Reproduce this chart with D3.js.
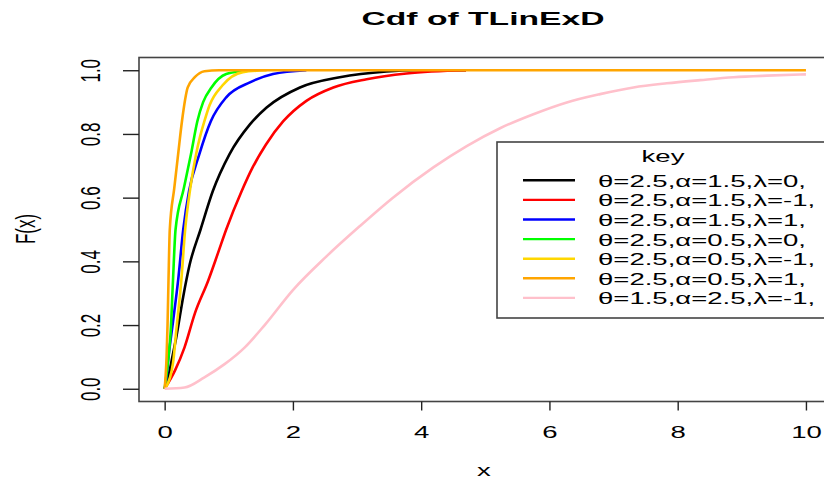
<!DOCTYPE html>
<html>
<head>
<meta charset="utf-8">
<script src="https://cdn.jsdelivr.net/npm/d3@7"></script>
<style>
    body { margin: 0; background: #fff; }
    text { font-family: "Liberation Sans", Arial, sans-serif; fill: #000; }
</style>
</head>
<body>
<div id="chart"></div>
<script>
// Data
// ============================================================================
const labels = [
    "θ=2.5,α=1.5,λ=0,",
    "θ=2.5,α=1.5,λ=-1,",
    "θ=2.5,α=1.5,λ=1,",
    "θ=2.5,α=0.5,λ=0,",
    "θ=2.5,α=0.5,λ=-1,",
    "θ=2.5,α=0.5,λ=1,",
    "θ=1.5,α=2.5,λ=-1,",
];

const xBlack = [0, 0.06, 0.12, 0.18, 0.29, 0.39, 0.56, 0.75, 1.01, 1.33, 1.59, 2.11, 2.73, 3.46, 3.9, 4.7];
const fBlack = [0, 0.04, 0.10, 0.16, 0.29, 0.39, 0.50, 0.62, 0.736, 0.83, 0.883, 0.946, 0.978, 0.996, 1.0, 1.0];

const xRed = [0, 0.16, 0.31, 0.47, 0.68, 0.83, 0.96, 1.2, 1.37, 1.58, 1.85, 2.21, 2.63, 3.15, 3.77, 4.7];
const fRed = [0, 0.057, 0.13, 0.236, 0.34, 0.425, 0.5, 0.62, 0.694, 0.767, 0.84, 0.904, 0.946, 0.972, 0.99, 1.0];

const xBlue = [0, 0.02, 0.06, 0.13, 0.21, 0.29, 0.38, 0.54, 0.72, 0.96, 1.33, 1.69, 2.21];
const fBlue = [0, 0.02, 0.1, 0.21, 0.34, 0.5, 0.62, 0.736, 0.84, 0.915, 0.962, 0.988, 1.0];

const xGreen = [0, 0.02, 0.06, 0.094, 0.13, 0.17, 0.30, 0.41, 0.51, 0.60, 0.73, 0.96, 1.22, 1.4];
const fGreen = [0, 0.03, 0.1, 0.18, 0.34, 0.5, 0.63, 0.736, 0.84, 0.90, 0.946, 0.988, 0.997, 1.0];

const xGold = [0, 0.02, 0.13, 0.18, 0.26, 0.32, 0.40, 0.49, 0.55, 0.62, 0.70, 0.90, 1.22, 1.59];
const fGold = [0, 0.005, 0.08, 0.18, 0.34, 0.5, 0.63, 0.736, 0.79, 0.84, 0.89, 0.952, 0.994, 1.0];

const xOrange = [0, 0.03, 0.045, 0.06, 0.08, 0.15, 0.21, 0.27, 0.36, 0.47, 0.62, 0.85, 10];
const fOrange = [0, 0.1, 0.2, 0.34, 0.5, 0.63, 0.736, 0.84, 0.946, 0.978, 0.997, 1.0, 1.0];

const xPink = [0, 0.31, 0.62, 0.94, 1.25, 1.56, 2.0, 2.52, 3.04, 3.56, 4.19, 4.71, 5.23, 5.75, 6.27, 6.79, 7.31, 7.83, 8.35, 8.87, 9.39, 10.0];
const fPink = [0, 0.004, 0.036, 0.078, 0.13, 0.2, 0.31, 0.415, 0.51, 0.60, 0.695, 0.762, 0.818, 0.862, 0.899, 0.925, 0.946, 0.959, 0.969, 0.978, 0.983, 0.987];

const xTicks = [0, 2, 4, 6, 8, 10];
const yTicks = [0, 0.2, 0.4, 0.6, 0.8, 1.0];

const colors = ["#000000", "#ff0000", "#0000ff", "#00ff00", "#ffd700", "#ffa500", "#ffc0cb"];

const series = [
    [xBlack, fBlack], [xRed, fRed], [xBlue, fBlue], [xGreen, fGreen],
    [xGold, fGold], [xOrange, fOrange], [xPink, fPink],
].map(([xs, fs], i) => ({
    label: labels[i],
    color: colors[i],
    values: xs.map((x, j) => ({x: x, f: fs[j]})),
}));

// Layout (the original is stretched sideways, so text gets a scaleX)
// ============================================================================
const W = 824, H = 480,
    box = {left: 139, top: 57.5, right: 831.6, bottom: 401.5},
    SX = 1.62;

const svg = d3.select("#chart")
    .append("svg")
        .attr("width", W)
        .attr("height", H);

let xScale = d3.scaleLinear()
    .domain([-0.4, 10.4])
    .range([box.left, box.right]);

let yScale = d3.scaleLinear()
    .domain([-0.04, 1.04])
    .range([box.bottom, box.top]);

// Curves
// ============================================================================
const line = d3.line()
    .x(d => xScale(d.x))
    .y(d => yScale(d.f))
    .curve(d3.curveMonotoneX);

svg.selectAll(".curve")
    .data(series)
    .enter()
    .append("path")
        .attr("class", "curve")
        .attr("d", d => line(d.values))
        .attr("fill", "none")
        .attr("stroke", d => d.color)
        .attr("stroke-width", 2.6)
        .attr("stroke-linejoin", "round");

// Box and axes
// ============================================================================
svg.append("rect")
    .attr("x", box.left)
    .attr("y", box.top)
    .attr("width", box.right - box.left)
    .attr("height", box.bottom - box.top)
    .attr("fill", "none")
    .attr("stroke", "#444")
    .attr("stroke-width", 1.6);

let xAxis = svg.append("g")
    .attr("transform", "translate(0," + box.bottom + ")")
    .call(d3.axisBottom(xScale).tickValues(xTicks).tickSize(9).tickFormat(d3.format("d")));

xAxis.select(".domain").remove();
xAxis.selectAll("line").attr("stroke", "#222").attr("stroke-width", 1.4);
xAxis.selectAll(".tick text")
    .attr("x", 0)
    .attr("y", 0)
    .attr("dy", 0)
    .attr("transform", "translate(0,36) scale(" + SX + ",1)")
    .style("font-size", "17px")
    .style("font-family", "Liberation Sans, Arial, sans-serif");

let yAxis = svg.append("g")
    .attr("transform", "translate(" + box.left + ",0)")
    .call(d3.axisLeft(yScale).tickValues(yTicks).tickSize(16).tickFormat(d3.format(".1f")));

yAxis.select(".domain").remove();
yAxis.selectAll("line").attr("stroke", "#222").attr("stroke-width", 1.4);
yAxis.selectAll(".tick text")
    .attr("x", null)
    .attr("dy", null)
    .attr("text-anchor", "middle")
    .attr("transform", "translate(-39,0) scale(" + SX + ",1) rotate(-90)")
    .style("font-size", "17px")
    .style("font-family", "Liberation Sans, Arial, sans-serif");

// Title and axis labels
// ============================================================================
svg.append("text")
    .attr("x", 483)
    .attr("y", 25)
    .attr("text-anchor", "middle")
    .attr("textLength", 243)
    .attr("lengthAdjust", "spacingAndGlyphs")
    .style("font-size", "18.5px")
    .style("font-weight", "bold")
    .text("Cdf of TLinExD");

svg.append("text")
    .attr("transform", "translate(484,476) scale(" + SX + ",1)")
    .attr("text-anchor", "middle")
    .style("font-size", "17px")
    .text("x");

svg.append("text")
    .attr("transform", "translate(35,229) scale(" + SX + ",1) rotate(-90)")
    .attr("text-anchor", "middle")
    .style("font-size", "17px")
    .text("F(x)");

// Legend
// ============================================================================
const legend = svg.append("g");

legend.append("rect")
    .attr("x", 497)
    .attr("y", 142)
    .attr("width", 360)
    .attr("height", 176)
    .attr("fill", "#fff")
    .attr("stroke", "#444")
    .attr("stroke-width", 1.6);

legend.append("text")
    .attr("transform", "translate(663,162) scale(" + SX + ",1)")
    .attr("text-anchor", "middle")
    .style("font-size", "17px")
    .text("key");

series.forEach((d, i) => {
    const ly = 180.3 + i * 19.6;

    legend.append("line")
        .attr("x1", 523)
        .attr("x2", 575)
        .attr("y1", ly)
        .attr("y2", ly)
        .attr("stroke", d.color)
        .attr("stroke-width", 2.4);

    legend.append("text")
        .attr("transform", "translate(598," + (ly + 6.5) + ") scale(" + SX + ",1)")
        .style("font-size", "17px")
        .text(d.label);
});
</script>
</body>
</html>
